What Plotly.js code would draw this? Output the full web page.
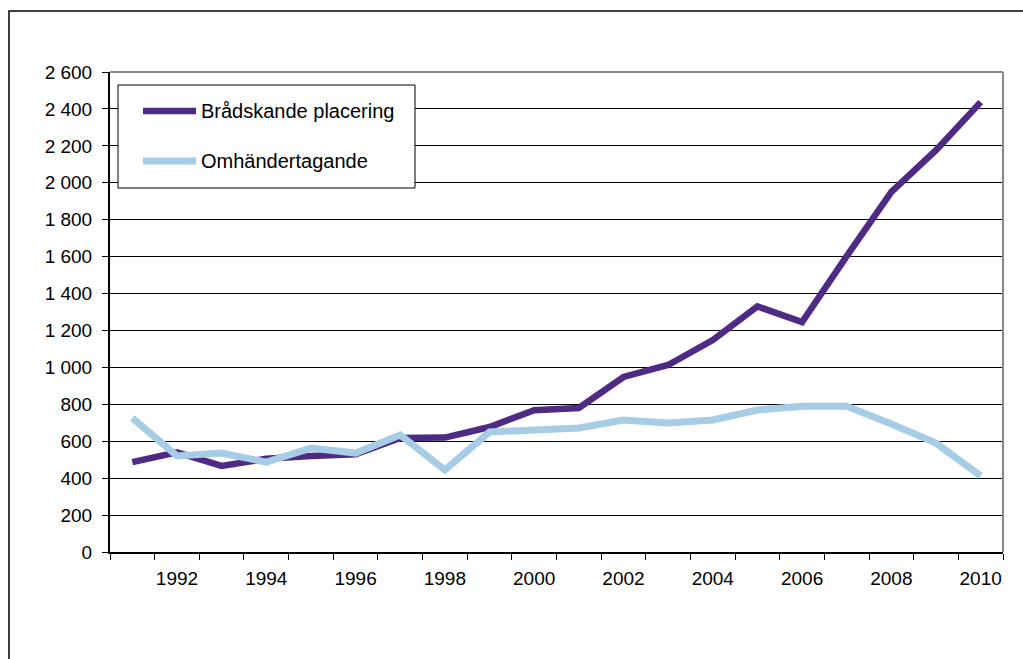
<!DOCTYPE html>
<html>
<head>
<meta charset="utf-8">
<script src="https://cdn.plot.ly/plotly-3.0.1.min.js"></script>
<style>
html,body{margin:0;padding:0;background:#fff;}
#chart{width:1023px;height:659px;}
</style>
</head>
<body>
<div id="chart"></div>
<script>
var years = ["1991","1992","1993","1994","1995","1996","1997","1998","1999","2000","2001","2002","2003","2004","2005","2006","2007","2008","2009","2010"];
var xTickText = ["","1992","","1994","","1996","","1998","","2000","","2002","","2004","","2006","","2008","","2010"];
var bradskande = [487,540,466,505,520,530,618,620,677,768,780,948,1013,1148,1330,1245,1603,1950,2177,2437];
var omhandertagande = [726,520,536,487,563,536,634,444,650,661,672,715,699,715,769,790,790,693,590,412];
var seriesNames = ["Brådskande placering","Omhändertagande"];
var seriesColors = ["#4E2A84","#A7CDE6"];
var yTickVals = [0,200,400,600,800,1000,1200,1400,1600,1800,2000,2200,2400,2600];
var yTickText = ["0","200","400","600","800","1 000","1 200","1 400","1 600","1 800","2 000","2 200","2 400","2 600"];

var L = 110, T = 72, W = 893, H = 480;
function px(x){ return (x - L) / W; }
function py(y){ return (T + H - y) / H; }

var traces = [
  {x: years, y: bradskande, name: seriesNames[0], type: "scatter", mode: "lines",
   line: {color: seriesColors[0], width: 6.5}, showlegend: false, hoverinfo: "none"},
  {x: years, y: omhandertagande, name: seriesNames[1], type: "scatter", mode: "lines",
   line: {color: seriesColors[1], width: 7}, showlegend: false, hoverinfo: "none"}
];

var tickFont = {family: "Liberation Sans, Arial, sans-serif", size: 19, color: "#000"};
var legendFont = {family: "Liberation Sans, Arial, sans-serif", size: 20, color: "#000"};

var shapes = [
  {type: "rect", xref: "paper", yref: "paper", x0: px(9), x1: px(1040), y0: py(11), y1: py(700),
   line: {color: "#000", width: 1.5}, fillcolor: "rgba(0,0,0,0)", layer: "below"},
  {type: "line", xref: "paper", yref: "paper", x0: 0, x1: 1, y0: 1, y1: 1, line: {color: "#888", width: 2}},
  {type: "line", xref: "paper", yref: "paper", x0: 1, x1: 1, y0: 0, y1: 1, line: {color: "#888", width: 2}},
  {type: "rect", xref: "paper", yref: "paper", x0: px(118), x1: px(415), y0: py(188), y1: py(85),
   line: {color: "#000", width: 1}, fillcolor: "#fff", layer: "above"},
  {type: "line", xref: "paper", yref: "paper", x0: px(143), x1: px(196), y0: py(111), y1: py(111),
   line: {color: seriesColors[0], width: 6.5}},
  {type: "line", xref: "paper", yref: "paper", x0: px(143), x1: px(196), y0: py(161), y1: py(161),
   line: {color: seriesColors[1], width: 7}}
];

var annotations = [
  {xref: "paper", yref: "paper", x: px(199), y: py(111), xanchor: "left", yanchor: "middle",
   text: seriesNames[0], showarrow: false, font: legendFont},
  {xref: "paper", yref: "paper", x: px(199), y: py(161), xanchor: "left", yanchor: "middle",
   text: seriesNames[1], showarrow: false, font: legendFont}
];

var layout = {
  width: 1023, height: 659,
  margin: {l: L, r: 1023 - L - W, t: T, b: 659 - T - H, pad: 0},
  paper_bgcolor: "#fff", plot_bgcolor: "#fff",
  font: tickFont,
  showlegend: false,
  xaxis: {
    type: "category", range: [-0.5, 19.5],
    tickmode: "array", tickvals: years, ticktext: xTickText, tickangle: 0,
    tickson: "boundaries", ticks: "outside", ticklen: 6, tickwidth: 1, tickcolor: "#000",
    showgrid: false, zeroline: false,
    showline: true, linecolor: "#000", linewidth: 2,
    ticklabelstandoff: 8,
    tickfont: tickFont, fixedrange: true
  },
  yaxis: {
    range: [0, 2600],
    tickmode: "array", tickvals: yTickVals, ticktext: yTickText,
    ticks: "outside", ticklen: 6, tickwidth: 1, tickcolor: "#000",
    showgrid: true, gridcolor: "#000", gridwidth: 1,
    zeroline: false, showline: true, linecolor: "#000", linewidth: 2,
    ticklabelstandoff: 6,
    tickfont: tickFont, fixedrange: true
  },
  shapes: shapes,
  annotations: annotations
};

Plotly.newPlot("chart", traces, layout, {staticPlot: true, displayModeBar: false});
</script>
</body>
</html>
